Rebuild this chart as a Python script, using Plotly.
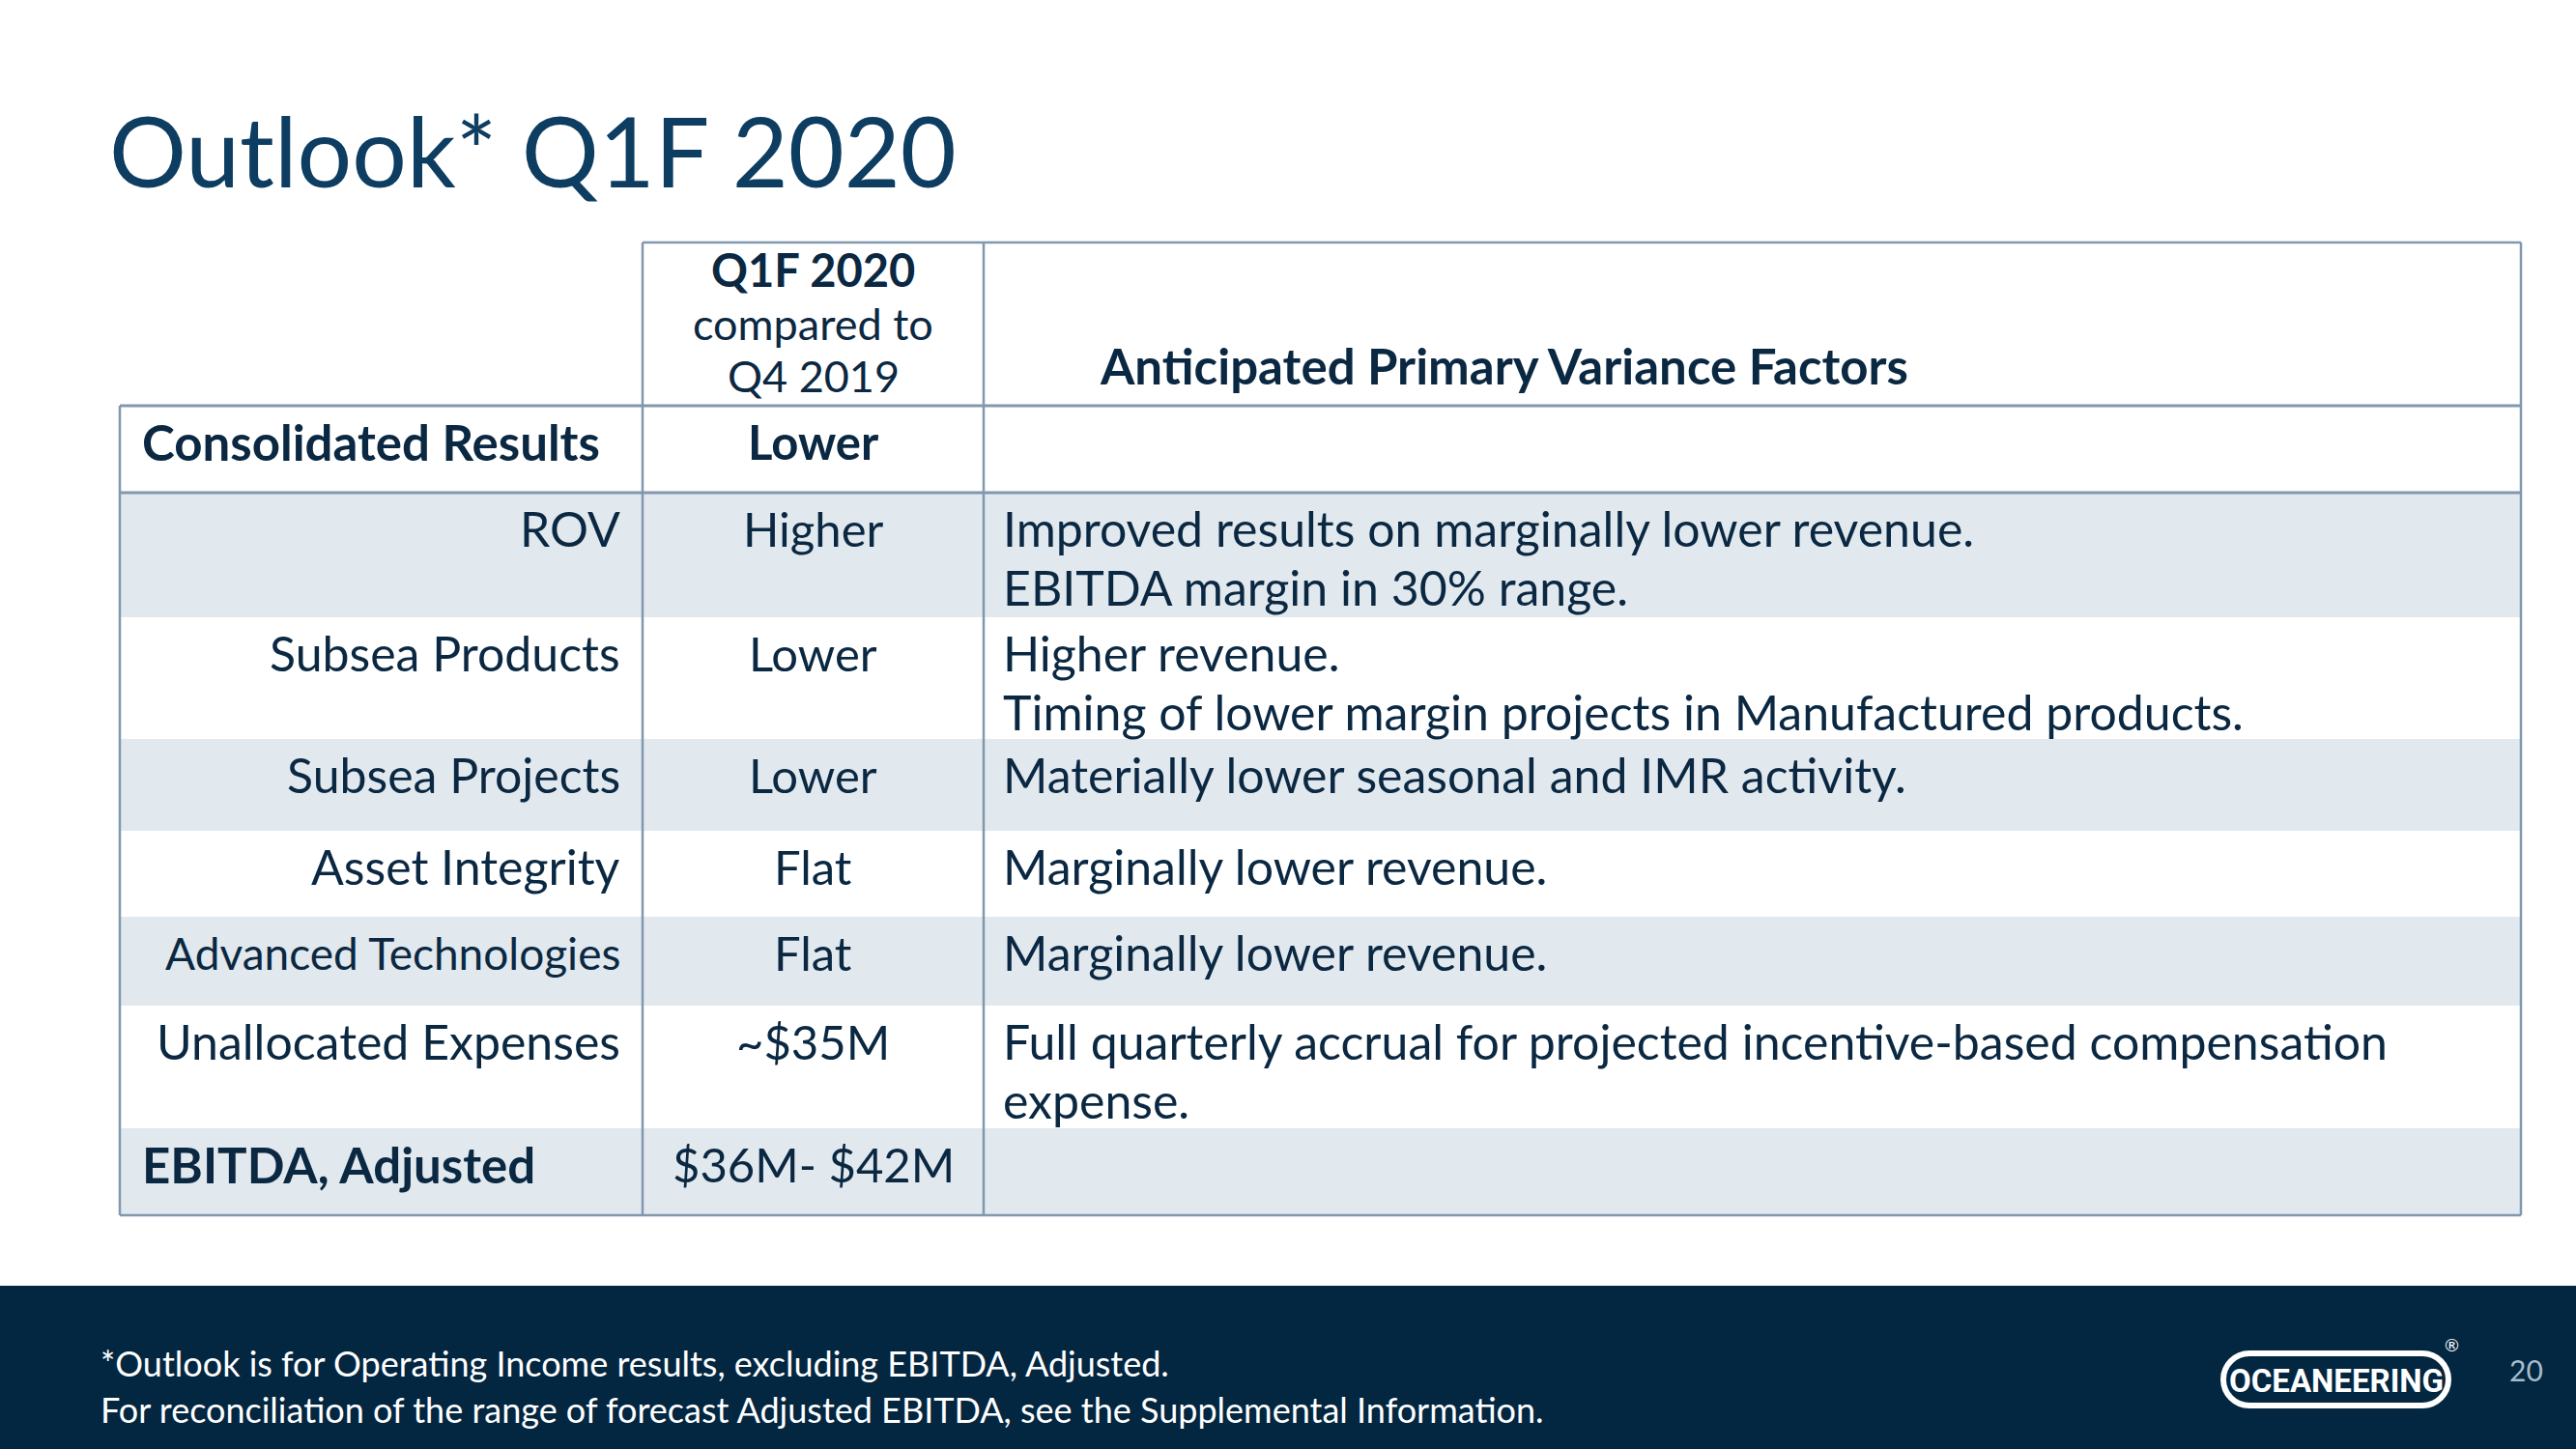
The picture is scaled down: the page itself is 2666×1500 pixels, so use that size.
import plotly.graph_objects as go

# ---------------- data ----------------
title = "Outlook* Q1F 2020"
header_period = ["Q1F 2020", "compared to", "Q4 2019"]
header_factors = "Anticipated Primary Variance Factors"
segments = ["Consolidated Results", "ROV", "Subsea Products", "Subsea Projects",
            "Asset Integrity", "Advanced Technologies", "Unallocated Expenses",
            "EBITDA, Adjusted"]
outlook = ["Lower", "Higher", "Lower", "Lower", "Flat", "Flat", "~$35M", "$36M- $42M"]
factors = [
    [],
    ["Improved results on marginally lower revenue.", "EBITDA margin in 30% range."],
    ["Higher revenue.", "Timing of lower margin projects in Manufactured products."],
    ["Materially lower seasonal and IMR activity."],
    ["Marginally lower revenue."],
    ["Marginally lower revenue."],
    ["Full quarterly accrual for projected incentive-based compensation", "expense."],
    [],
]
summary_rows = ["Consolidated Results", "EBITDA, Adjusted"]
footnotes = ["*Outlook is for Operating Income results, excluding EBITDA, Adjusted.",
             "For reconciliation of the range of forecast Adjusted EBITDA, see the Supplemental Information."]
page_number = "20"
brand = "OCEANEERING"

# ---------------- layout / style ----------------
W, H = 2666, 1500
X_LEFT, X_C1, X_C2, X_RIGHT = 124, 665, 1018, 2609
Y_HEAD_TOP, Y_HEAD_BOT = 251, 420
row_heights = [90, 129, 126, 95, 89, 92, 127, 90]
FOOT_TOP = 1331
FONT = "Lato, 'Open Sans', sans-serif"
NAVY = "#0b2842"
TITLE_C = "#0d3d61"
BORDER = "#8198ad"
BAND = "#e1e8ee"
FOOT_BG = "#032641"
BODY = 50
LINE_H = 61

fig = go.Figure()
shapes = []
ann = []

def rect(x0, y0, x1, y1, fill, layer="below"):
    shapes.append(dict(type="rect", xref="x", yref="y", x0=x0, y0=y0, x1=x1, y1=y1,
                       fillcolor=fill, layer=layer, line=dict(width=0, color=fill)))

def seg(x0, y0, x1, y1, lw=2.5):
    shapes.append(dict(type="line", xref="x", yref="y", x0=x0, y0=y0, x1=x1, y1=y1,
                       line=dict(color=BORDER, width=lw), layer="above"))

def text(x, y, s, size, color=NAVY, xanchor="left", bold=False, font=FONT):
    ann.append(dict(x=x, y=y, xref="x", yref="y", text=f"<b>{s}</b>" if bold else s,
                    showarrow=False, xanchor=xanchor, yanchor="middle", borderpad=0,
                    font=dict(family=font, size=size, color=color)))

# title
text(112, 155, title, 100, TITLE_C)

# row tops
tops = [Y_HEAD_BOT]
for h in row_heights:
    tops.append(tops[-1] + h)

# bands
for i, seg_name in enumerate(segments):
    if i % 2 == 1:
        rect(X_LEFT, tops[i], X_RIGHT, tops[i + 1], BAND)

# header text
hy = [279, 335, 389]
hs = [47, 45, 45]
for i, s in enumerate(header_period):
    text((X_C1 + X_C2) / 2, hy[i], s, hs[i], xanchor="center", bold=(i == 0))
text(1137, 378, header_factors, 51, bold=True)

# rows
for i, name in enumerate(segments):
    yc = tops[i] + 37
    if name in summary_rows:
        text(146, yc, name, BODY + 1, bold=True)
    else:
        text(643, yc, name, 46 if len(name) > 20 else BODY, xanchor="right")
    text((X_C1 + X_C2) / 2, yc, outlook[i], 49, xanchor="center", bold=(i == 0))
    for k, line in enumerate(factors[i]):
        text(1037, yc + k * LINE_H, line, BODY)

# borders
seg(X_C1, Y_HEAD_TOP, X_RIGHT, Y_HEAD_TOP)
for x in (X_C1, X_C2, X_RIGHT):
    seg(x, Y_HEAD_TOP, x, tops[-1])
seg(X_LEFT, Y_HEAD_BOT, X_LEFT, tops[-1])
seg(X_LEFT, Y_HEAD_BOT, X_RIGHT, Y_HEAD_BOT, 3)
seg(X_LEFT, tops[1], X_RIGHT, tops[1], 3)
seg(X_LEFT, tops[-1], X_RIGHT, tops[-1])

# footer
rect(0, FOOT_TOP, W, H, FOOT_BG)
text(103, 1411, footnotes[0], 36, "white")
text(103, 1459, footnotes[1], 36, "white")
text(2614, 1418, page_number, 30, "#a4bccd", xanchor="center")

# logo (pill outline drawn with cubic Beziers)
x0, x1, y0, y1 = 2301, 2534, 1401, 1455
r = (y1 - y0) / 2
k = 0.5523 * r
path = (f"M {x0+r},{y0} L {x1-r},{y0} "
        f"C {x1-r+k},{y0} {x1},{y0+r-k} {x1},{y0+r} "
        f"C {x1},{y0+r+k} {x1-r+k},{y1} {x1-r},{y1} "
        f"L {x0+r},{y1} "
        f"C {x0+r-k},{y1} {x0},{y0+r+k} {x0},{y0+r} "
        f"C {x0},{y0+r-k} {x0+r-k},{y0} {x0+r},{y0} Z")
shapes.append(dict(type="path", xref="x", yref="y", path=path, fillcolor=FOOT_BG,
                   line=dict(color="white", width=6), layer="above"))
text(2418, 1429, brand, 33, "white", xanchor="center", bold=True,
     font="'Liberation Sans Narrow', 'Roboto', sans-serif")
text(2537, 1392, "®", 18, "white", xanchor="center")

fig.update_layout(
    width=W, height=H, margin=dict(l=0, r=0, t=0, b=0),
    paper_bgcolor="white", plot_bgcolor="white",
    xaxis=dict(range=[0, W], visible=False, fixedrange=True),
    yaxis=dict(range=[H, 0], visible=False, fixedrange=True),
    shapes=shapes, annotations=ann, showlegend=False,
)
fig.write_html("out.html", config={"displayModeBar": False},
               post_script="document.body.style.margin='0';document.body.style.overflow='hidden';")
